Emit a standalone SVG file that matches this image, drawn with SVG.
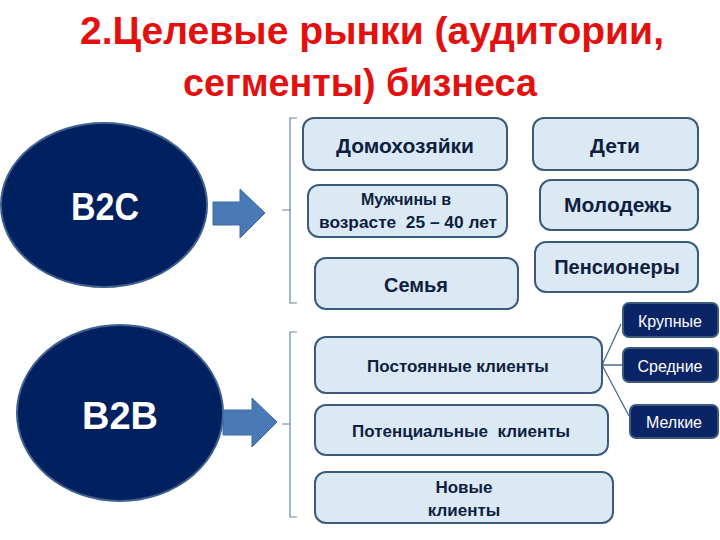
<svg xmlns="http://www.w3.org/2000/svg" width="720" height="540" viewBox="0 0 720 540">
<style>
.title{font-family:"Liberation Sans","Noto Sans",sans-serif;font-weight:bold;font-size:38px;fill:#e31010}
.box{fill:#dbe9f5;stroke:#3c5a7c;stroke-width:2}
.dbox{fill:#0a2466;stroke:#3c5a7c;stroke-width:2}
.ell{fill:#002060;stroke:#3f5f8f;stroke-width:2}
.t{font-family:"Liberation Sans","Noto Sans",sans-serif;font-weight:bold;fill:#0f1f3f;text-anchor:middle;white-space:pre}
.w{font-family:"Liberation Sans","Noto Sans",sans-serif;fill:#ffffff;text-anchor:middle;font-size:16px}
.big{font-family:"Liberation Sans","Noto Sans",sans-serif;font-weight:bold;fill:#ffffff;text-anchor:middle;font-size:39px}
.arr{fill:#4a7ab5;stroke:#3c6aa0;stroke-width:1}
.br{fill:none;stroke:#6a86a8;stroke-width:1.2}
.ln{fill:none;stroke:#4a6a90;stroke-width:1.3}
</style>
<g id="title">
<text class="title" x="372" y="44" text-anchor="middle" textLength="584" lengthAdjust="spacingAndGlyphs">2.Целевые рынки (аудитории,</text>
<text class="title" x="360" y="96" text-anchor="middle" textLength="354" lengthAdjust="spacingAndGlyphs">сегменты) бизнеса</text>
</g>
<g id="b2c">
<ellipse class="ell" cx="104" cy="205" rx="103" ry="82"/>
<text class="big" x="105" y="220" textLength="68" lengthAdjust="spacingAndGlyphs">B2C</text>
</g>
<g id="b2b">
<ellipse class="ell" cx="120" cy="413" rx="103" ry="88"/>
<text class="big" x="120" y="429" textLength="76" lengthAdjust="spacingAndGlyphs">B2B</text>
</g>
<g id="connectors">
<polygon class="arr" points="213,202 240,202 240,189 265,213 240,238 240,225 213,225"/>
<polygon class="arr" points="223,410 252,410 252,398 277,422 252,447 252,435 223,435"/>
<path class="br" d="M297,118 H290 V303 H297 M290,210 H282"/>
<path class="br" d="M297,332 H290 V517 H297 M290,424 H282"/>
<path class="ln" d="M602,365 L621,324 M602,365 H623 M602,365 L629,416"/>
</g>
<g id="n-dom"><rect class="box" x="303" y="118" width="204" height="52" rx="11"/><text class="t" x="405" y="153" font-size="21">Домохозяйки</text></g>
<g id="n-deti"><rect class="box" x="533" y="118" width="165" height="52" rx="11"/><text class="t" x="615" y="153" font-size="21">Дети</text></g>
<g id="n-muzh"><rect class="box" x="308" y="185" width="199" height="52" rx="11"/><text class="t" x="406" y="205" font-size="16">Мужчины в</text><text class="t" x="408" y="228" font-size="16" textLength="178" lengthAdjust="spacingAndGlyphs">возрасте  25 – 40 лет</text></g>
<g id="n-molod"><rect class="box" x="540" y="180" width="158" height="50" rx="11"/><text class="t" x="618" y="212" font-size="21">Молодежь</text></g>
<g id="n-semya"><rect class="box" x="315" y="258" width="203" height="51" rx="11"/><text class="t" x="416" y="292" font-size="20">Семья</text></g>
<g id="n-pens"><rect class="box" x="535" y="242" width="163" height="50" rx="11"/><text class="t" x="617" y="274" font-size="20">Пенсионеры</text></g>
<g id="n-post"><rect class="box" x="315" y="337" width="287" height="56" rx="11"/><text class="t" x="458" y="372" font-size="17">Постоянные клиенты</text></g>
<g id="n-pot"><rect class="box" x="315" y="405" width="293" height="50" rx="11"/><text class="t" x="461" y="437" font-size="17">Потенциальные  клиенты</text></g>
<g id="n-new"><rect class="box" x="315" y="472" width="298" height="51" rx="11"/><text class="t" x="464" y="493" font-size="17">Новые</text><text class="t" x="464" y="516" font-size="17">клиенты</text></g>
<g id="n-krup"><rect class="dbox" x="623" y="303" width="95" height="34" rx="6"/><text class="w" x="670" y="327">Крупные</text></g>
<g id="n-sred"><rect class="dbox" x="623" y="348" width="95" height="34" rx="6"/><text class="w" x="670" y="372">Средние</text></g>
<g id="n-melk"><rect class="dbox" x="630" y="405" width="88" height="33" rx="6"/><text class="w" x="674" y="428">Мелкие</text></g>
</svg>
